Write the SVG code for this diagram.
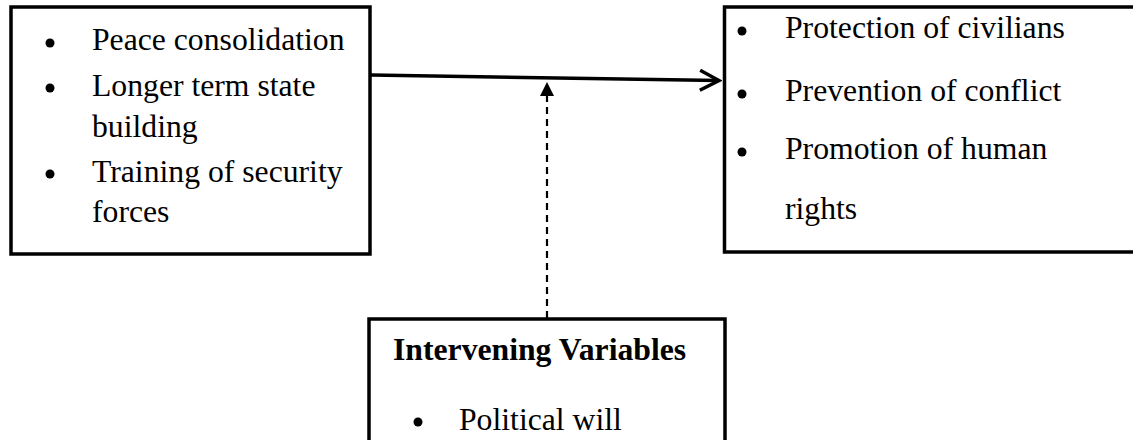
<svg xmlns="http://www.w3.org/2000/svg" width="1133" height="440" viewBox="0 0 1133 440">
<defs>
<style>
.box{fill:#fff;stroke:#000;stroke-width:3.5}
.t{font-family:"Liberation Serif","Times New Roman",serif;font-size:31.7px;fill:#000}
.b{font-weight:bold}
.dot{fill:#000}
.conn{stroke:#000;fill:none}
</style>
<marker id="open" markerUnits="userSpaceOnUse" viewBox="0 0 24 24" refX="21" refY="12" markerWidth="24" markerHeight="24" orient="auto">
<path d="M2,2 L21,12 L2,22" fill="none" stroke="#000" stroke-width="3.5"/>
</marker>
<marker id="tri" markerUnits="userSpaceOnUse" viewBox="0 0 16 16" refX="15" refY="8" markerWidth="16" markerHeight="16" orient="auto">
<path d="M1,0.5 L15,8 L1,15.5 Z" fill="#000"/>
</marker>
</defs>
<rect width="1133" height="440" fill="#fff"/>
<g id="connectors">
<line class="conn" x1="371" y1="75" x2="719" y2="80.5" stroke-width="3.5" marker-end="url(#open)"/>
<line class="conn" x1="547" y1="318" x2="547" y2="96" stroke-width="2.2" stroke-dasharray="7,5"/>
<path d="M547,82 L554,96 L540,96 Z" fill="#000"/>
</g>
<g id="node-left">
<rect class="box" x="11" y="7" width="359" height="247"/>
<circle class="dot" cx="50" cy="43" r="4.5"/>
<circle class="dot" cx="50" cy="88" r="4.5"/>
<circle class="dot" cx="50" cy="174" r="4.5"/>
<text class="t" x="92" y="50">Peace consolidation</text>
<text class="t" x="92" y="96">Longer term state</text>
<text class="t" x="92" y="137">building</text>
<text class="t" x="92" y="182">Training of security</text>
<text class="t" x="92" y="222">forces</text>
</g>
<g id="node-right">
<rect class="box" x="724.5" y="7" width="430" height="245"/>
<circle class="dot" cx="742" cy="31" r="4.5"/>
<circle class="dot" cx="742" cy="94" r="4.5"/>
<circle class="dot" cx="742" cy="152" r="4.5"/>
<text class="t" x="785" y="38">Protection of civilians</text>
<text class="t" x="785" y="101">Prevention of conflict</text>
<text class="t" x="785" y="159">Promotion of human</text>
<text class="t" x="785" y="219">rights</text>
</g>
<g id="node-bottom">
<rect class="box" x="369" y="319" width="356" height="140"/>
<text class="t b" x="393" y="360">Intervening Variables</text>
<circle class="dot" cx="418" cy="422" r="4.5"/>
<text class="t" x="459" y="430">Political will</text>
</g>
</svg>
